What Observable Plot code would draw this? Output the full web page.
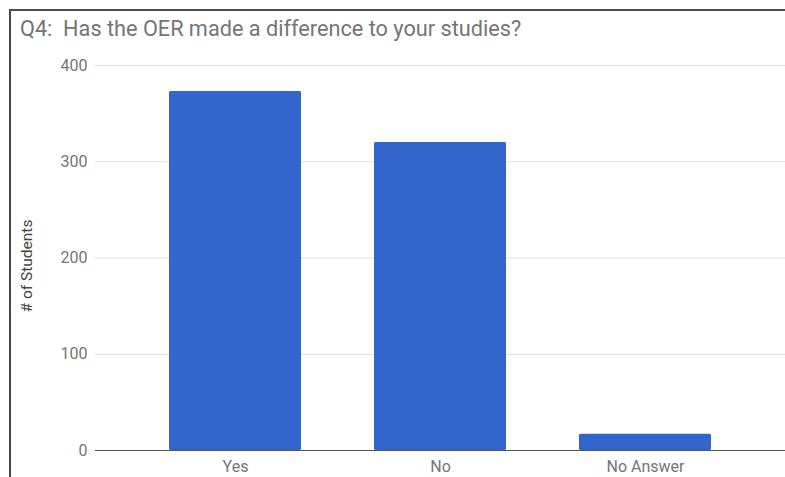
<!DOCTYPE html>
<html>
<head>
<meta charset="utf-8">
<script src="https://cdn.jsdelivr.net/npm/d3@7"></script>
<script src="https://cdn.jsdelivr.net/npm/@observablehq/plot@0.6"></script>
<style>
  html, body { margin: 0; padding: 0; background: #fff; }
  #wrap { position: relative; width: 785px; height: 477px; overflow: hidden; font-family: Roboto, "Noto Sans", sans-serif; }
  #topb { position: absolute; left: 9px; top: 9px; width: 776px; height: 2px; background: #4a4a4a; }
  #leftb { position: absolute; left: 9px; top: 9px; width: 2px; height: 468px; background: #4a4a4a; }
  #title { position: absolute; left: 20px; top: 16px; font-size: 21.7px; color: #757575; white-space: pre; line-height: 26px; }
  #ylab { position: absolute; left: 27px; top: 266px; transform: translate(-50%, -50%) rotate(-90deg); font-size: 15.5px; color: #444; white-space: nowrap; }
  #chart { position: absolute; left: 0; top: 50px; }
</style>
</head>
<body>
<div id="wrap">
  <div id="topb"></div>
  <div id="leftb"></div>
  <div id="title">Q4:  Has the OER made a difference to your studies?</div>
  <div id="ylab"># of Students</div>
  <div id="chart"></div>
</div>
<script>
const categories = ["Yes", "No", "No Answer"];
const counts = [373, 320, 17];
const yTicks = [0, 100, 200, 300, 400];

const data = categories.map((c, i) => ({answer: c, students: counts[i]}));

const chart = Plot.plot({
  width: 785,
  height: 427,
  marginTop: 15,
  marginBottom: 27,
  marginLeft: 95,
  marginRight: 0,
  style: {fontFamily: "Roboto, 'Noto Sans', sans-serif", fontSize: "16px", color: "#757575", background: "transparent"},
  x: {domain: categories, padding: 0.355, label: null},
  y: {domain: [0, 400], label: null},
  marks: [
    Plot.gridY(yTicks, {stroke: "#dcdcdc", strokeOpacity: 1}),
    Plot.barY(data, {x: "answer", y: "students", fill: "#3366cc", rx: 1.5}),
    Plot.ruleY([0], {stroke: "#555", strokeWidth: 1.2}),
    Plot.axisY(yTicks, {tickSize: 0, tickPadding: 8, label: null, fill: "#757575", fontSize: 16}),
    Plot.axisX({tickSize: 0, tickPadding: 10, label: null, fill: "#757575", fontSize: 16})
  ]
});
document.getElementById("chart").appendChild(chart);
</script>
</body>
</html>
